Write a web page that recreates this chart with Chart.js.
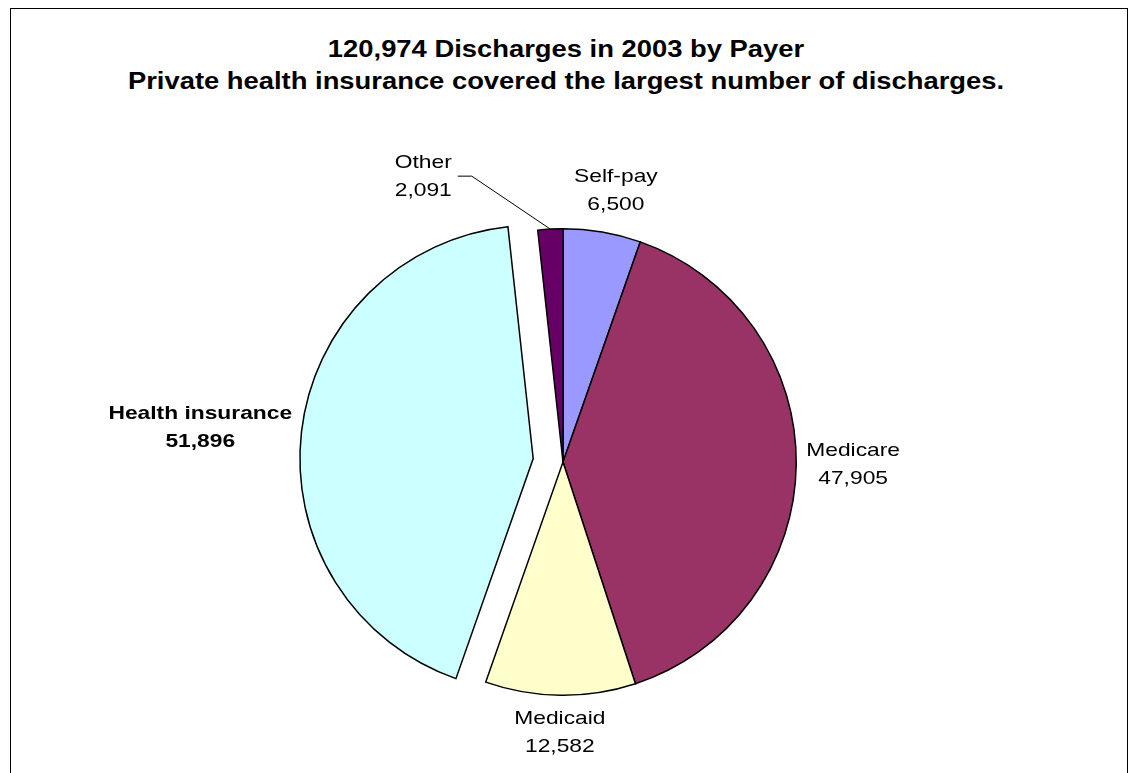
<!DOCTYPE html>
<html>
<head>
<meta charset="utf-8">
<script src="https://cdn.jsdelivr.net/npm/chart.js@4/dist/chart.umd.min.js"></script>
<style>
  html, body { margin: 0; padding: 0; background: #fff; overflow: hidden; }
  body { width: 1137px; height: 773px; position: relative; }
  #frame {
    position: absolute; left: 10px; top: 8px; width: 1118px; height: 900px;
    border: 1px solid #000; box-sizing: border-box;
  }
  #title {
    position: absolute; left: 0; top: 33px; width: 1132px;
    text-align: center; font: bold 23px "Liberation Sans", Arial, sans-serif;
    line-height: 32px; color: #000;
    transform: scaleX(1.19); transform-origin: 566px 0;
  }
  #pie { position: absolute; left: 0; top: 0; }
</style>
</head>
<body>
<div id="frame"></div>
<div id="title">120,974 Discharges in 2003 by Payer<br>Private health insurance covered the largest number of discharges.</div>
<canvas id="pie" width="1137" height="773"></canvas>
<script>
// discharges by payer, clockwise from 12 o'clock
const payers = ['Self-pay', 'Medicare', 'Medicaid', 'Health insurance', 'Other'];
const discharges = [6500, 47905, 12582, 51896, 2091];
const sliceColors = ['#9999FF', '#993366', '#FFFFCC', '#CCFFFF', '#660066'];

const TEXT_STRETCH = 1.2;   // labels are drawn slightly wide
const LINE_H = 28;

/* pull a slice straight out along its mid angle, keeping its radius */
const explodeSlice = {
  id: 'explodeSlice',
  afterDatasetUpdate(chart, args, opts) {
    const meta = chart.getDatasetMeta(args.index);
    Object.entries(opts.dist).forEach(([i, d]) => {
      const arc = meta.data[i];
      if (!arc) return;
      const mid = (arc.startAngle + arc.endAngle) / 2;
      arc.x += Math.cos(mid) * d;
      arc.y += Math.sin(mid) * d;
    });
  }
};

/* outside labels: name + value, with a leader line for moved labels */
const outsideLabels = {
  id: 'outsideLabels',
  afterDatasetsDraw(chart, args, opts) {
    const ctx = chart.ctx;
    const meta = chart.getDatasetMeta(0);
    ctx.save();
    ctx.fillStyle = '#000';
    ctx.textAlign = 'center';
    ctx.textBaseline = 'middle';
    meta.data.forEach((arc, i) => {
      const p = arc.getProps(['x', 'y', 'startAngle', 'endAngle', 'outerRadius'], true);
      const mid = (p.startAngle + p.endAngle) / 2;
      const cos = Math.cos(mid), sin = Math.sin(mid);

      const lines = [payers[i], discharges[i].toLocaleString('en-US')];
      ctx.font = (i === opts.boldIndex ? 'bold ' : '') + '19px "Liberation Sans", Arial, sans-serif';
      const w = Math.max(...lines.map(t => ctx.measureText(t).width)) * TEXT_STRETCH;
      const halfW = w / 2, halfH = lines.length * LINE_H / 2;

      const r = p.outerRadius + opts.pad;
      let lx = p.x + cos * r + cos * halfW;
      let ly = p.y + sin * r + sin * halfH;

      const nudge = opts.nudge[i];
      if (nudge) {
        lx += nudge.dx;
        ly += nudge.dy;
      }
      if (nudge && nudge.leader) {
        // leader line back to the slice edge
        const ex = p.x + cos * p.outerRadius, ey = p.y + sin * p.outerRadius;
        const sx = lx + halfW + 6, sy = ly - 1;
        ctx.beginPath();
        ctx.moveTo(sx, sy);
        ctx.lineTo(sx + 14, sy);
        ctx.lineTo(ex, ey);
        ctx.strokeStyle = '#000';
        ctx.lineWidth = 1;
        ctx.stroke();
      }

      lines.forEach((t, k) => {
        ctx.save();
        ctx.translate(lx, ly - halfH + LINE_H / 2 + k * LINE_H);
        ctx.scale(TEXT_STRETCH, 1);
        ctx.fillText(t, 0, 0);
        ctx.restore();
      });
    });
    ctx.restore();
  }
};

new Chart(document.getElementById('pie'), {
  type: 'pie',
  data: {
    labels: payers,
    datasets: [{
      data: discharges,
      backgroundColor: sliceColors,
      borderColor: '#000',
      borderWidth: 1.5,
      hoverBorderWidth: 1.5,
      borderJoinStyle: 'miter',
      hoverOffset: 0,
      clip: false
    }]
  },
  options: {
    responsive: false,
    animation: false,
    layout: { padding: { top: 228, bottom: 77, left: 150, right: 161 } },
    events: [],
    plugins: {
      legend: { display: false },
      tooltip: { enabled: false },
      explodeSlice: { dist: { 3: 30 } },
      outsideLabels: {
        pad: 10,
        boldIndex: 3,
        nudge: {
          0: { dx: 5, dy: -4 },
          4: { dx: -125, dy: -14, leader: true }
        }
      }
    }
  },
  plugins: [explodeSlice, outsideLabels]
});
</script>
</body>
</html>
